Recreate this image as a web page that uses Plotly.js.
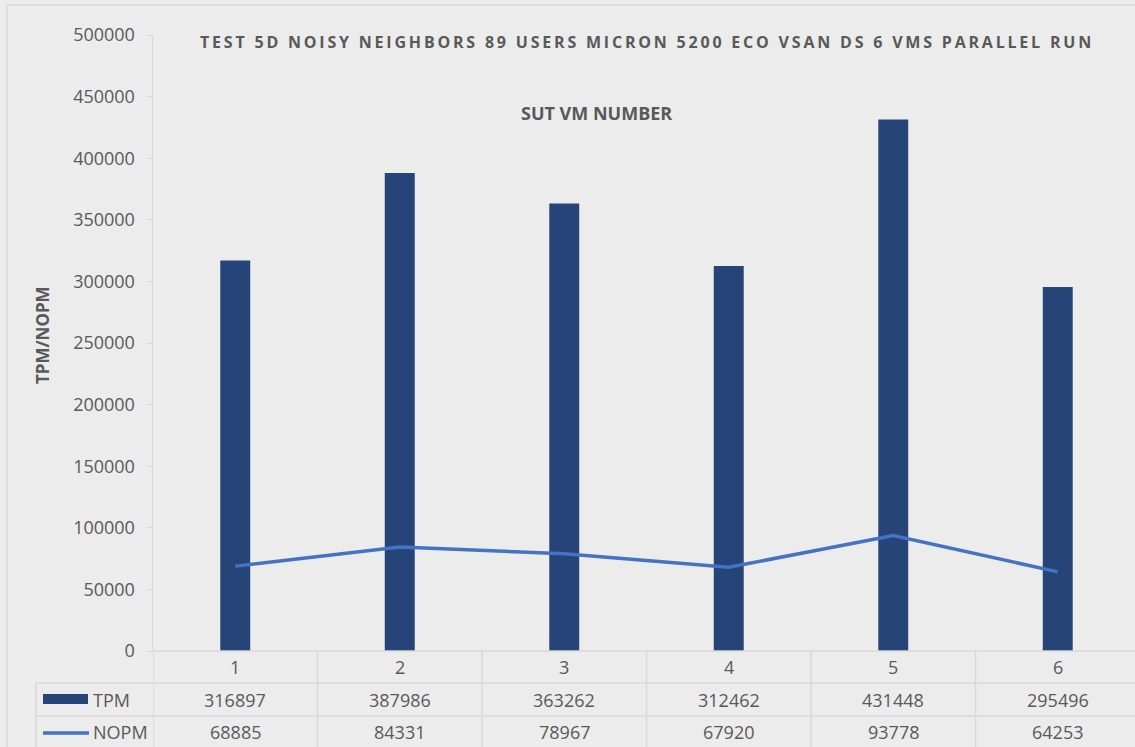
<!DOCTYPE html>
<html>
<head>
<meta charset="utf-8">
<script src="https://cdn.plot.ly/plotly-3.0.1.min.js"></script>
<style>
  html, body { margin: 0; padding: 0; background: #ececec; }
  #chart { width: 1135px; height: 747px; }
  .gtitle { letter-spacing: 2.8px; }
</style>
</head>
<body>
<div id="chart"></div>
<script>
// ---- data ----
const categories = ['1', '2', '3', '4', '5', '6'];
const tpm = [316897, 387986, 363262, 312462, 431448, 295496];
const nopm = [68885, 84331, 78967, 67920, 93778, 64253];
const seriesNames = ['TPM', 'NOPM'];
const chartTitle = 'TEST 5D NOISY NEIGHBORS 89 USERS MICRON 5200 ECO VSAN DS 6 VMS PARALLEL RUN';
const xTitle = 'SUT VM NUMBER';
const yTitle = 'TPM/NOPM';

// ---- layout geometry ----
const W = 1135, H = 747;
const M = { l: 153, r: 0, t: 35, b: 96 };
const PW = W - M.l - M.r, PH = H - M.t - M.b;
const px = x => (x - M.l) / PW;          // pixel x -> paper x
const py = y => (H - M.b - y) / PH;      // pixel y -> paper y

const TXT = '#595959', GRID = '#d9d9d9', BAR = '#264478', LINE = '#4472c4';
const FONT = 'Open Sans, sans-serif';

const xIdx = categories.map((c, i) => i);

const traces = [
  { type: 'bar', x: xIdx, y: tpm, name: seriesNames[0], width: 0.182,
    marker: { color: BAR, line: { width: 0 } }, hoverinfo: 'none' },
  { type: 'scatter', mode: 'lines', x: xIdx, y: nopm, name: seriesNames[1],
    line: { color: LINE, width: 3.5 }, hoverinfo: 'none' }
];

const shapes = [];
const annotations = [];
const ln = (x0, y0, x1, y1, xref) => shapes.push({ type: 'line', xref: xref || 'paper', yref: 'paper',
  x0, y0, x1, y1, line: { color: GRID, width: 1.5 } });

// outer chart border (left and top)
ln(px(7), py(5), px(7), py(H + 5));
ln(px(7), py(5), px(W + 5), py(5));
// table horizontal lines
ln(0, 0, 1, 0);
ln(px(36), py(683), 1, py(683));
ln(px(36), py(716), 1, py(716));
// table left edge
ln(px(36), py(683), px(36), py(H + 5));
// vertical separators at category boundaries
for (let i = 0; i < categories.length; i++) {
  ln(i - 0.5, 0, i - 0.5, py(H + 5), 'x');
}
// legend keys inside table
shapes.push({ type: 'rect', xref: 'paper', yref: 'paper', x0: px(43), x1: px(88), y0: py(694), y1: py(704),
  fillcolor: BAR, line: { width: 0 } });
shapes.push({ type: 'line', xref: 'paper', yref: 'paper', x0: px(43), x1: px(89), y0: py(733), y1: py(733),
  line: { color: LINE, width: 3.5 } });

const tf = { family: FONT, size: 18, color: TXT };
categories.forEach((c, i) => {
  annotations.push({ xref: 'x', yref: 'paper', x: i, y: py(667), text: c, showarrow: false,
    xanchor: 'center', yanchor: 'middle', font: tf });
  annotations.push({ xref: 'x', yref: 'paper', x: i, y: py(699.5), text: String(tpm[i]), showarrow: false,
    xanchor: 'center', yanchor: 'middle', font: tf });
  annotations.push({ xref: 'x', yref: 'paper', x: i, y: py(731.5), text: String(nopm[i]), showarrow: false,
    xanchor: 'center', yanchor: 'middle', font: tf });
});
annotations.push({ xref: 'paper', yref: 'paper', x: px(91), y: py(699.5), text: seriesNames[0], showarrow: false,
  xanchor: 'left', yanchor: 'middle', font: tf });
annotations.push({ xref: 'paper', yref: 'paper', x: px(91), y: py(731.5), text: seriesNames[1], showarrow: false,
  xanchor: 'left', yanchor: 'middle', font: tf });
// x-axis title (placed at top as in the reference)
annotations.push({ xref: 'paper', yref: 'paper', x: px(596), y: py(113), text: '<b>' + xTitle + '</b>', showarrow: false,
  xanchor: 'center', yanchor: 'middle', font: { family: FONT, size: 18, color: TXT } });
// y-axis title
annotations.push({ xref: 'paper', yref: 'paper', x: px(42), y: py(335), text: '<b>' + yTitle + '</b>', showarrow: false,
  textangle: -90, xanchor: 'center', yanchor: 'middle', font: { family: FONT, size: 17, color: TXT } });

const layout = {
  width: W, height: H,
  margin: M,
  paper_bgcolor: '#ececec', plot_bgcolor: '#ececec',
  showlegend: false,
  title: { text: '<b>' + chartTitle + '</b>', xref: 'container', yref: 'container',
    x: 200 / W, xanchor: 'left', y: 1 - 42 / H, yanchor: 'middle',
    font: { family: FONT, size: 16, color: TXT } },
  xaxis: { range: [-0.5, -0.5 + PW / 164.5], showticklabels: false, showgrid: false, zeroline: false,
    showline: false, ticks: '', fixedrange: true },
  yaxis: { range: [0, 500000], dtick: 50000, tickformat: 'd', showgrid: false, zeroline: false,
    showline: true, linecolor: GRID, linewidth: 1.5, ticks: 'outside', ticklen: 5, tickcolor: GRID,
    tickwidth: 1, ticklabelstandoff: 8, tickfont: tf, fixedrange: true },
  shapes, annotations
};

Plotly.newPlot('chart', traces, layout, { displayModeBar: false, staticPlot: true });
</script>
</body>
</html>
